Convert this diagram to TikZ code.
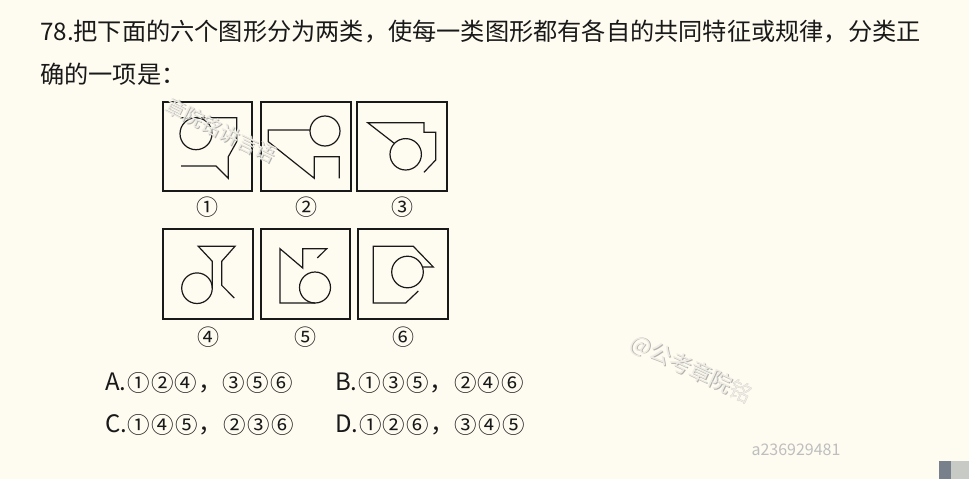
\documentclass[tikz,border=0pt]{standalone}
\usepackage{fontspec}
\setmainfont{Noto Sans CJK SC}
\newfontfamily\cjk{Noto Sans CJK SC}
\definecolor{bgc}{RGB}{254,251,240}
\definecolor{ink}{RGB}{25,25,25}
\definecolor{wmdark}{RGB}{178,178,175}
\definecolor{wmlight}{RGB}{238,236,228}
\definecolor{idgray}{RGB}{190,190,190}
\definecolor{barA}{RGB}{120,128,140}
\definecolor{barB}{RGB}{200,202,198}
\tikzset{
  box/.style={draw=ink, line width=1.2pt},
  fig/.style={draw=ink, line width=1.2pt, line join=miter},
  lbl/.style={inner sep=0, text=ink, font=\cjk\fontsize{22}{22}\selectfont},
  opt/.style={anchor=base west, inner sep=0, text=ink, font=\cjk\fontsize{24}{24}\selectfont},
  ttl/.style={anchor=base west, inner sep=0, text=ink, font=\cjk\fontsize{24.2}{24.2}\selectfont},
  wm/.style={inner sep=0, font=\cjk\fontsize{20}{20}\selectfont}
}
\newcommand{\cd}[1]{\makebox[23.9pt]{\raisebox{-1pt}{\cjk\fontsize{22.5}{22.5}\selectfont #1}}}
\begin{document}
\begin{tikzpicture}[x=1pt,y=-1pt]
\fill[bgc] (0,0) rectangle (969,479);
\useasboundingbox (0,0) rectangle (969,479);

% title
\node[ttl] (t1) at (40,40) {78.把下面的六个图形分为两类，使每一类图形都有各自的共同特征或规律，分类正};
\node[ttl] (t2) at (40,83) {确的一项是：};

% box 1
\draw[box] (163,102) rectangle (252,191);
\draw[fig] (181,166)--(216,166)--(228.3,178.3)--(228.3,156.7)--(236.7,141.7)--(236.7,117.7)--(180,117.7);
\draw[fig] (196,133.7) circle[radius=16pt];
% box 2
\draw[box] (261,102) rectangle (351,191);
\draw[fig] (310,130)--(268.3,130)--(268.3,141.7)--(314.3,178.3)--(314.3,156.7)--(339.3,156.7)--(339.3,178.3);
\draw[fig] (325,131) circle[radius=15pt];
% box 3
\draw[box] (357,102) rectangle (447,191);
\draw[fig] (394.5,143.5)--(367.7,122.7)--(424,122.7)--(424,132.3)--(435.7,132.3)--(435.7,160)--(424,172.3);
\draw[fig] (405.7,154.3) circle[radius=15.7pt];
% box 4
\draw[box] (163,229) rectangle (253,319);
\draw[fig] (212.3,288.2)--(212.3,261.3)--(198.3,246.3)--(235,246.3)--(221.7,261.3)--(221.7,285.3)--(234.3,298);
\draw[fig] (197,288.2) circle[radius=15.3pt];
% box 5
\draw[box] (261,229) rectangle (350,319);
\draw[fig] (315,303)--(280,303)--(280,248.7)--(302.7,268)--(302.7,248.7)--(326.7,248.7)--(317.3,258);
\draw[fig] (315,287.5) circle[radius=15.5pt];
% box 6
\draw[box] (358,229) rectangle (448,319);
\draw[fig] (422.5,267)--(433.3,267)--(413.3,246.3)--(373.3,246.3)--(373.3,303)--(405.7,303)--(418.3,291);
\draw[fig] (407.5,272) circle[radius=15.8pt];

% labels
\node[lbl] (l1) at (207.5,207) {①};
\node[lbl] (l2) at (306,207) {②};
\node[lbl] (l3) at (402,207) {③};
\node[lbl] (l4) at (208,337) {④};
\node[lbl] (l5) at (305.5,337) {⑤};
\node[lbl] (l6) at (403,337) {⑥};

% options
\node[opt] (oa) at (105,390) {A.\cd{①}\cd{②}\cd{④}，\cd{③}\cd{⑤}\cd{⑥}};
\node[opt] (ob) at (335,390) {B.\cd{①}\cd{③}\cd{⑤}，\cd{②}\cd{④}\cd{⑥}};
\node[opt] (oc) at (105,432) {C.\cd{①}\cd{④}\cd{⑤}，\cd{②}\cd{③}\cd{⑥}};
\node[opt] (od) at (335,432) {D.\cd{①}\cd{②}\cd{⑥}，\cd{③}\cd{④}\cd{⑤}};

% watermarks
\node[wm, text=wmdark, rotate=-26] (w1s) at (221.8,131.3) {章院铭讲言语};
\node[wm, text=wmlight, rotate=-26] (w1) at (221,130.5) {章院铭讲言语};
\node[wm, text=wmdark, rotate=-25, font=\cjk\fontsize{22}{22}\selectfont] (w2s) at (691.8,369.8) {@公考章院铭};
\node[wm, text=wmlight, rotate=-25, font=\cjk\fontsize{22}{22}\selectfont] (w2) at (691,369) {@公考章院铭};
\node[inner sep=0, text=idgray, font=\cjk\fontsize{16}{16}\selectfont] (id) at (796,450) {a236929481};

% corner bar
\fill[barA] (939.3,461) rectangle (950.7,479);
\fill[barB] (950.7,461) rectangle (969,479);
\end{tikzpicture}
\end{document}
